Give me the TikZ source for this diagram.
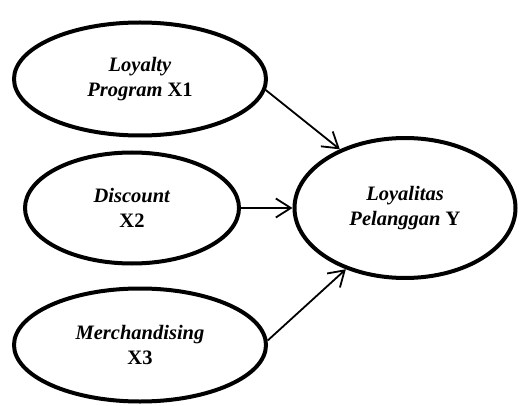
\documentclass[tikz,border=0pt]{standalone}
\usepackage{fontspec}
\setmainfont{Liberation Serif}
\usetikzlibrary{shapes.geometric,arrows.meta}
\begin{document}
\begin{tikzpicture}[
    x=1pt, y=-1pt,
    var/.style={ellipse, draw, line width=4pt, inner sep=0pt, align=center, font=\fontsize{20.5}{25}\selectfont\bfseries},
    link/.style={line width=1.8pt, -{Straight Barb[length=15pt,width=19pt,line width=1.8pt]}},
]
\useasboundingbox (0,0) rectangle (519,406);
\node[var, minimum width=252, minimum height=113] (x1) at (140,79) {\textit{Loyalty}\\\textit{Program} X1};
\node[var, minimum width=214, minimum height=111] (x2) at (132,208) {\textit{Discount}\\X2};
\node[var, minimum width=252, minimum height=113] (x3) at (140,345) {\textit{Merchandising}\\X3};
\node[var, minimum width=221, minimum height=140] (y) at (405,208) {\textit{Loyalitas}\\\textit{Pelanggan} Y};
\draw[link] (x1.-5) -- (y.138);
\draw[link] (x2.east) -- (y.west);
\draw[link] (x3.2) -- (y.226);
\end{tikzpicture}
\end{document}
